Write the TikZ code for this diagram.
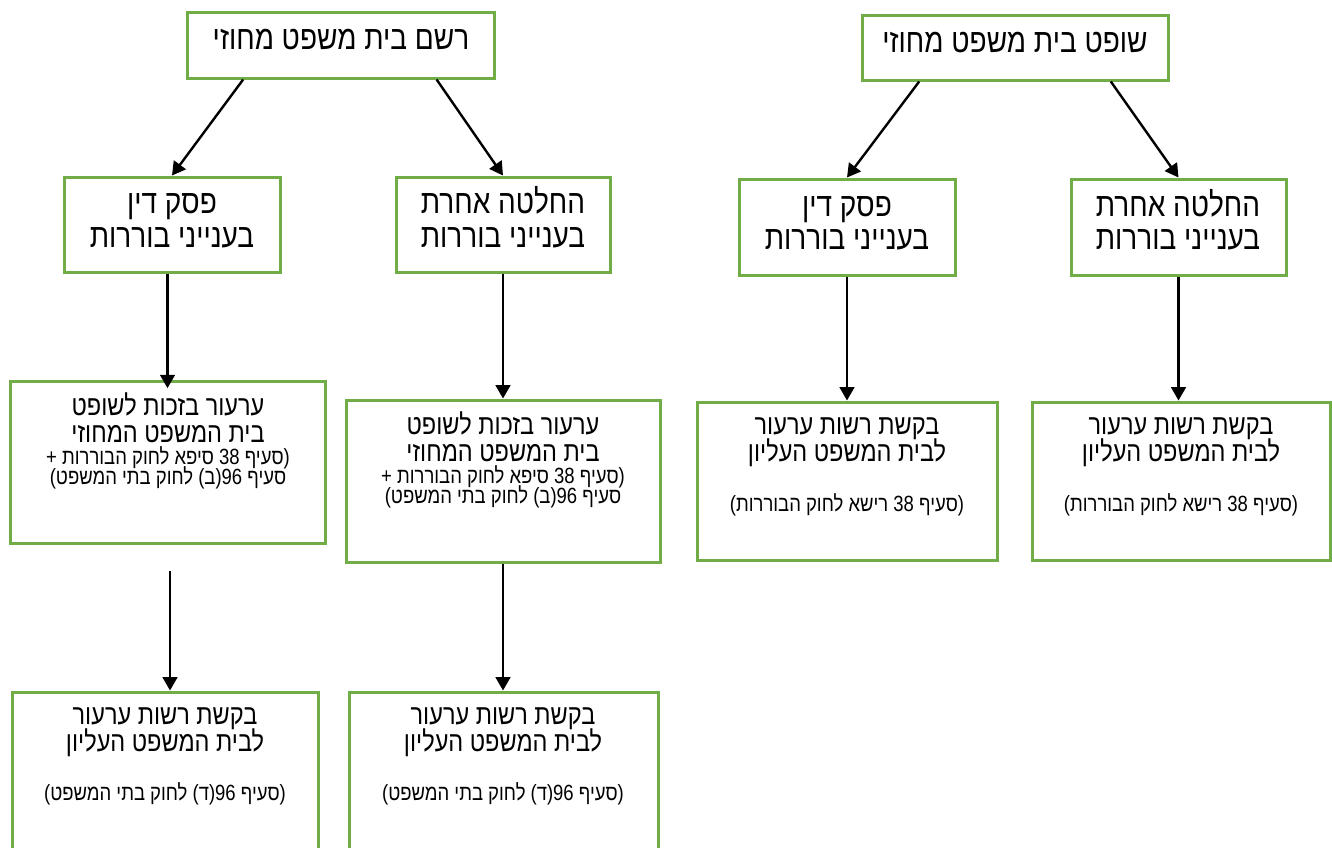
\documentclass[tikz,border=0pt]{standalone}
\usepackage{fontspec}
\TeXXeTstate=1
\newfontfamily\heb[Script=Hebrew,FakeStretch=0.84]{Liberation Sans}
\usetikzlibrary{arrows.meta,fit,calc}
\definecolor{boxgreen}{RGB}{112,173,71}
\newcommand\R[1]{\beginR #1\endR}
\tikzset{
  box/.style={draw=boxgreen, line width=2.25pt, inner sep=0pt, fit={#1}},
  lg/.style={inner sep=0pt, anchor=base, font=\heb\fontsize{25}{30}\selectfont},
  md/.style={inner sep=0pt, anchor=base, font=\heb\fontsize{21}{25}\selectfont},
  sm/.style={inner sep=0pt, anchor=base, font=\heb\fontsize{16.5}{20}\selectfont},
  arr/.style={-{Triangle[length=10pt,width=11pt]}, line width=1.8pt, draw=black}
}
\begin{document}
\begin{tikzpicture}[x=0.75pt,y=-0.75pt]
\useasboundingbox (0,0) rectangle (1332,847);
\clip (0,0) rectangle (1332,847);
% left tree
\node[box={(187,12) (494,78)}] (bA) {};
\node[box={(64,177) (280,272)}] (bB) {};
\node[box={(396,177) (610,272)}] (bC) {};
\node[box={(10,381) (325,543)}] (bD) {};
\node[box={(346,400) (660,562)}] (bE) {};
\node[box={(12,692) (318,900)}] (bF) {};
\node[box={(349,692) (658,900)}] (bG) {};
% right tree
\node[box={(862,15) (1168,80)}] (bH) {};
\node[box={(739,179) (955,275)}] (bI) {};
\node[box={(1071,179) (1286,275)}] (bJ) {};
\node[box={(697,402) (997,560)}] (bK) {};
\node[box={(1032,402) (1330,560)}] (bL) {};
% texts
\node[lg] (tA) at (341,49) {\R{רשם בית משפט מחוזי}};
\node[lg] (tH) at (1015,52) {\R{שופט בית משפט מחוזי}};
\node[lg] (tB1) at (172,213) {\R{פסק דין}};
\node[lg] (tB2) at (172,247) {\R{בענייני בוררות}};
\node[lg] (tC1) at (503,213) {\R{החלטה אחרת}};
\node[lg] (tC2) at (503,247) {\R{בענייני בוררות}};
\node[lg] (tI1) at (847,216) {\R{פסק דין}};
\node[lg] (tI2) at (847,249) {\R{בענייני בוררות}};
\node[lg] (tJ1) at (1178,216) {\R{החלטה אחרת}};
\node[lg] (tJ2) at (1178,249) {\R{בענייני בוררות}};
\node[md] (tD1) at (168,415) {\R{ערעור בזכות לשופט}};
\node[md] (tD2) at (168,442) {\R{בית המשפט המחוזי}};
\node[sm] (tD3) at (168,464) {\R{(סעיף 38 סיפא לחוק הבוררות +}};
\node[sm] (tD4) at (168,484) {\R{סעיף 96(ב) לחוק בתי המשפט)}};
\node[md] (tE1) at (503,434) {\R{ערעור בזכות לשופט}};
\node[md] (tE2) at (503,461) {\R{בית המשפט המחוזי}};
\node[sm] (tE3) at (503,483) {\R{(סעיף 38 סיפא לחוק הבוררות +}};
\node[sm] (tE4) at (503,503) {\R{סעיף 96(ב) לחוק בתי המשפט)}};
\node[md] (tK1) at (847,434) {\R{בקשת רשות ערעור}};
\node[md] (tK2) at (847,461) {\R{לבית המשפט העליון}};
\node[sm] (tK3) at (847,511) {\R{(סעיף 38 רישא לחוק הבוררות)}};
\node[md] (tL1) at (1181,434) {\R{בקשת רשות ערעור}};
\node[md] (tL2) at (1181,461) {\R{לבית המשפט העליון}};
\node[sm] (tL3) at (1181,511) {\R{(סעיף 38 רישא לחוק הבוררות)}};
\node[md] (tF1) at (165,724) {\R{בקשת רשות ערעור}};
\node[md] (tF2) at (165,751) {\R{לבית המשפט העליון}};
\node[sm] (tF3) at (165,800) {\R{(סעיף 96(ד) לחוק בתי המשפט)}};
\node[md] (tG1) at (503,724) {\R{בקשת רשות ערעור}};
\node[md] (tG2) at (503,751) {\R{לבית המשפט העליון}};
\node[sm] (tG3) at (503,800) {\R{(סעיף 96(ד) לחוק בתי המשפט)}};
% arrows
\draw[arr] ($(bA.south west)!0.186!(bA.south east)$) -- (bB.north);
\draw[arr] ($(bA.south west)!0.81!(bA.south east)$) -- (bC.north);
\draw[arr] ($(bH.south west)!0.19!(bH.south east)$) -- (bI.north);
\draw[arr] ($(bH.south west)!0.81!(bH.south east)$) -- (bJ.north);
\draw[arr, shorten >=-6.5pt] (bD.north |- bB.south) -- (bD.north);
\draw[arr] (bC.south) -- (bE.north);
\draw[arr] (bI.south) -- (bK.north);
\draw[arr] (bJ.south) -- (bJ.south |- bL.north);
\coordinate (dF) at (170,571);
\draw[arr] (dF) -- (dF |- bF.north);
\draw[arr] (bE.south) -- (bE.south |- bG.north);
\end{tikzpicture}
\end{document}
